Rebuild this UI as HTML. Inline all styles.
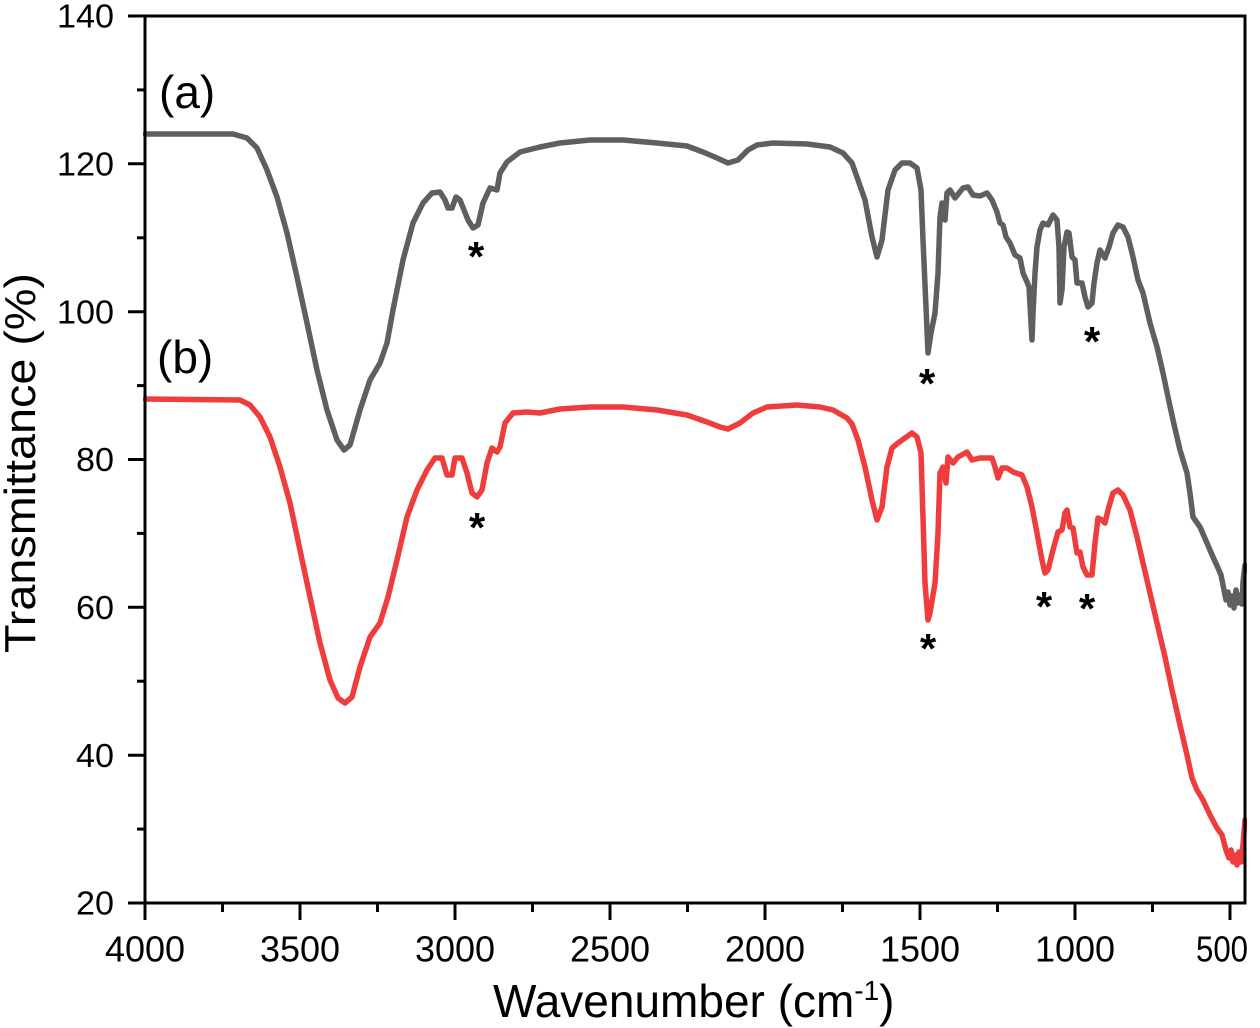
<!DOCTYPE html>
<html>
<head>
<meta charset="utf-8">
<style>
  html, body { margin: 0; padding: 0; background: #ffffff; }
  svg { display: block; }
  text { font-family: "Liberation Sans", Arial, sans-serif; fill: #000; }
</style>
</head>
<body>
<svg width="1260" height="1028" viewBox="0 0 1260 1028" xmlns="http://www.w3.org/2000/svg">
  <defs>
    <clipPath id="plotclip"><rect x="143" y="14" width="1104" height="891"/></clipPath>
  </defs>
  <rect x="0" y="0" width="1260" height="1028" fill="#ffffff"/>

  <!-- series (a) gray -->
  <g clip-path="url(#plotclip)" fill="none" stroke-width="5.5" stroke-linejoin="round" stroke-linecap="round">
    <polyline stroke="#5f5f5f" points="
      145,134 233,134 247,138 257,148 267,170 277,197 287,233 297,277 307,323 317,370 327,410 337,440 344,450 350,445 360,410 370,380 380,363 387,343 393,310 403,260 413,223 423,203 432,193 440,192 445,200 448,208 452,208 456,197 460,200 468,220 473,228 478,225 483,203 490,188 497,190 500,173 507,162 520,152 540,147 560,143 590,140 623,140 657,143 687,146 703,152 717,158 728,163 738,160 748,150 757,145 773,143 807,144 830,147 843,153 852,163 858,180 865,200 872,237 877,257 882,240 888,190 895,170 902,163 910,163 917,168 921,190 923,240 926,307 928,353 931,333 935,313 938,273 940,217 942,203 945,220 947,193 950,190 955,198 963,188 968,187 973,195 980,196 987,193 992,200 997,212 1000,223 1003,225 1006,237 1010,243 1015,255 1020,258 1023,273 1027,282 1029,287 1032,340 1033,313 1035,273 1037,247 1040,230 1043,223 1048,225 1053,215 1057,220 1059,247 1060,303 1062,290 1064,247 1067,232 1069,233 1072,257 1075,260 1077,283 1082,283 1085,297 1088,307 1092,303 1094,283 1097,263 1100,250 1105,258 1109,247 1113,233 1118,225 1123,227 1128,237 1133,257 1138,280 1143,293 1150,323 1157,347 1163,373 1168,397 1173,420 1180,450 1187,473 1190,493 1193,517 1200,527 1207,543 1213,557 1218,568 1221,575 1224,590 1226,600 1228,592 1230,605 1232,596 1234,608 1236,590 1238,603 1240,595 1242,604 1243,582 1245,565"/>
    <!-- series (b) red -->
    <polyline stroke="#ef3d3d" points="
      145,399 240,400 250,405 260,417 270,437 280,467 290,503 300,550 310,597 320,643 330,680 338,698 345,703 352,697 360,667 370,637 380,623 388,597 397,560 407,517 417,490 427,470 435,458 442,458 447,475 452,475 455,458 462,458 467,473 472,493 477,497 482,490 487,463 492,448 497,452 500,447 505,423 513,413 527,412 540,413 560,409 590,407 623,407 657,410 687,415 707,422 720,427 728,429 740,423 753,413 767,407 797,405 820,407 833,410 847,418 852,424 858,440 865,467 872,500 877,520 882,507 887,467 892,448 898,443 905,438 912,433 917,437 921,453 923,517 925,583 928,620 930,613 935,583 938,533 940,473 943,467 946,483 948,457 953,463 958,457 967,452 972,460 980,458 992,458 995,467 998,478 1002,468 1007,468 1013,472 1022,475 1027,487 1032,507 1037,533 1042,560 1045,573 1048,570 1053,550 1058,532 1062,530 1065,513 1067,510 1070,527 1073,528 1077,553 1080,552 1083,567 1087,575 1092,575 1095,543 1098,518 1102,520 1105,523 1108,510 1113,493 1118,490 1123,495 1130,510 1137,537 1143,563 1150,593 1157,623 1165,657 1172,690 1180,725 1187,755 1192,778 1197,790 1203,800 1210,815 1217,828 1222,835 1226,850 1229,858 1231,850 1233,862 1235,855 1237,865 1239,852 1241,862 1243,845 1245,820"/>
  </g>

  <!-- axes frame -->
  <g stroke="#000" stroke-width="3" fill="none">
    <rect x="145" y="16" width="1100" height="887"/>
  </g>

  <!-- y ticks -->
  <g stroke="#000" stroke-width="3">
    <line x1="128" y1="16" x2="145" y2="16"/>
    <line x1="137" y1="89.9" x2="145" y2="89.9"/>
    <line x1="128" y1="163.8" x2="145" y2="163.8"/>
    <line x1="137" y1="237.8" x2="145" y2="237.8"/>
    <line x1="128" y1="311.7" x2="145" y2="311.7"/>
    <line x1="137" y1="385.6" x2="145" y2="385.6"/>
    <line x1="128" y1="459.5" x2="145" y2="459.5"/>
    <line x1="137" y1="533.4" x2="145" y2="533.4"/>
    <line x1="128" y1="607.3" x2="145" y2="607.3"/>
    <line x1="137" y1="681.2" x2="145" y2="681.2"/>
    <line x1="128" y1="755.2" x2="145" y2="755.2"/>
    <line x1="137" y1="829.1" x2="145" y2="829.1"/>
    <line x1="128" y1="903" x2="145" y2="903"/>
  </g>
  <!-- x ticks -->
  <g stroke="#000" stroke-width="3">
    <line x1="145" y1="903" x2="145" y2="920"/>
    <line x1="222.5" y1="903" x2="222.5" y2="912"/>
    <line x1="300" y1="903" x2="300" y2="920"/>
    <line x1="377.5" y1="903" x2="377.5" y2="912"/>
    <line x1="455" y1="903" x2="455" y2="920"/>
    <line x1="532.5" y1="903" x2="532.5" y2="912"/>
    <line x1="610" y1="903" x2="610" y2="920"/>
    <line x1="687.5" y1="903" x2="687.5" y2="912"/>
    <line x1="765" y1="903" x2="765" y2="920"/>
    <line x1="842.5" y1="903" x2="842.5" y2="912"/>
    <line x1="920" y1="903" x2="920" y2="920"/>
    <line x1="997.5" y1="903" x2="997.5" y2="912"/>
    <line x1="1075" y1="903" x2="1075" y2="920"/>
    <line x1="1152.5" y1="903" x2="1152.5" y2="912"/>
    <line x1="1230" y1="903" x2="1230" y2="920"/>
  </g>

  <!-- y tick labels -->
  <g font-size="33" text-anchor="end">
    <text x="114" y="27.6" textLength="57" lengthAdjust="spacingAndGlyphs">140</text>
    <text x="114" y="175.4" textLength="57" lengthAdjust="spacingAndGlyphs">120</text>
    <text x="114" y="323.3" textLength="57" lengthAdjust="spacingAndGlyphs">100</text>
    <text x="114" y="471.1" textLength="38" lengthAdjust="spacingAndGlyphs">80</text>
    <text x="114" y="618.9" textLength="38" lengthAdjust="spacingAndGlyphs">60</text>
    <text x="114" y="766.8" textLength="38" lengthAdjust="spacingAndGlyphs">40</text>
    <text x="114" y="914.6" textLength="38" lengthAdjust="spacingAndGlyphs">20</text>
  </g>

  <!-- x tick labels -->
  <g font-size="36" text-anchor="middle">
    <text x="145" y="961.5">4000</text>
    <text x="300" y="961.5">3500</text>
    <text x="455" y="961.5">3000</text>
    <text x="610" y="961.5">2500</text>
    <text x="765" y="961.5">2000</text>
    <text x="920" y="961.5">1500</text>
    <text x="1075" y="961.5">1000</text>
  </g>
  <text x="1196" y="961.5" font-size="36" textLength="52" lengthAdjust="spacingAndGlyphs">500</text>

  <!-- axis titles -->
  <text x="493" y="1017" font-size="46">Wavenumber (cm<tspan font-size="28" dy="-17">-1</tspan><tspan dy="17">)</tspan></text>
  <text transform="translate(35,463) rotate(-90)" text-anchor="middle" font-size="44" textLength="380" lengthAdjust="spacingAndGlyphs">Transmittance (%)</text>

  <!-- curve labels -->
  <text x="159" y="108" font-size="46">(a)</text>
  <text x="157" y="373" font-size="46">(b)</text>

  <!-- asterisks -->
  <g font-size="42" font-weight="bold" text-anchor="middle">
    <text x="476" y="271">*</text>
    <text x="927" y="398">*</text>
    <text x="1092" y="356">*</text>
    <text x="477" y="542">*</text>
    <text x="928" y="663">*</text>
    <text x="1044" y="621">*</text>
    <text x="1087" y="623">*</text>
  </g>
</svg>
</body>
</html>
